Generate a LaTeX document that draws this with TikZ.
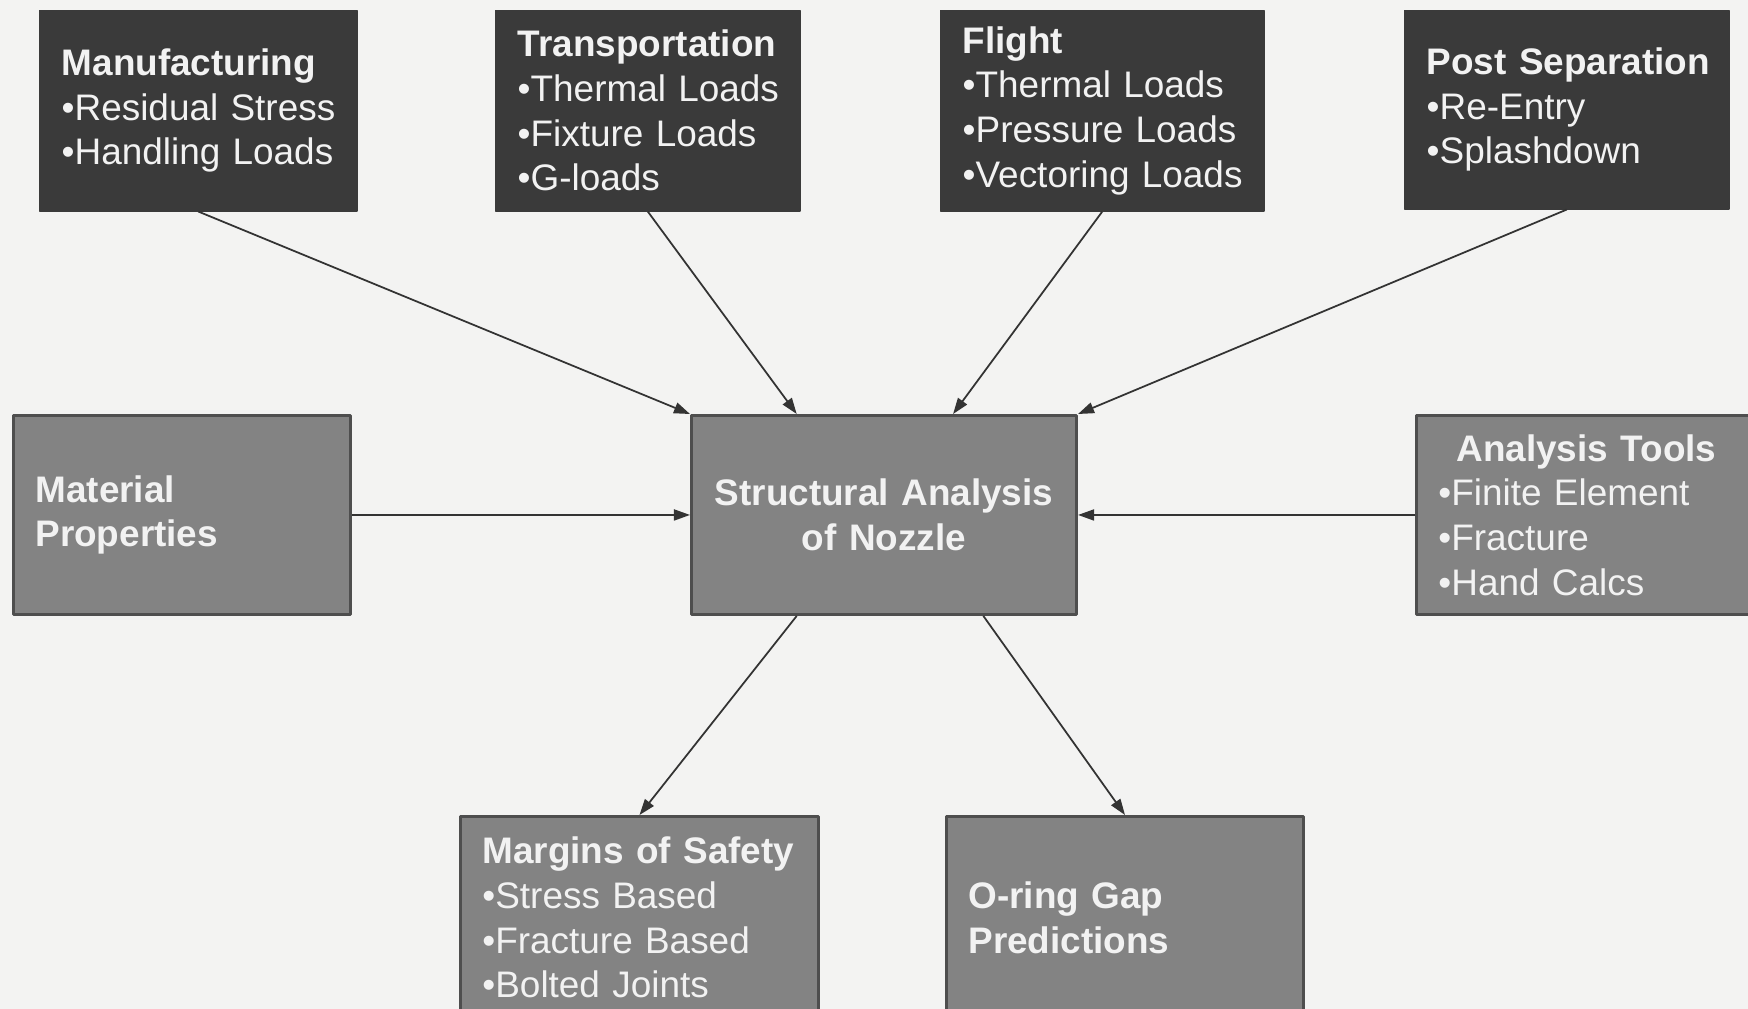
\documentclass[tikz,border=0pt]{standalone}
\usepackage{fontspec}
\setmainfont{Liberation Sans}
\usetikzlibrary{calc,arrows.meta}

\definecolor{paper}{HTML}{F3F3F2}
\definecolor{boxdark}{HTML}{3A3A3A}
\definecolor{boxgrey}{HTML}{838383}
\definecolor{boxrim}{HTML}{4E4E4E}
\definecolor{boxtext}{HTML}{F2F2F2}
\definecolor{wire}{HTML}{333333}
\hyphenpenalty=10000

\begin{document}
\begin{tikzpicture}[
    x=0.01cm,
    y=-0.01cm,
    line join=round,
    >={Triangle[length=0.16cm,width=0.11cm]},
    box/.style={anchor=north west, text=boxtext, inner xsep=0.22cm, inner ysep=0pt,
        align=left, font=\fontsize{10.5pt}{12.7pt}\selectfont},
    darkbox/.style={box, fill=boxdark, draw=boxdark},
    greybox/.style={box, fill=boxgrey, draw=boxrim, line width=0.8pt},
    feed/.style={->, draw=wire, line width=0.5pt}
]
\useasboundingbox (0,0) rectangle (1748,1009);
\clip (0,0) rectangle (1748,1009);
\fill[paper] (0,0) rectangle (1748,1009);

% sources of load
\node[darkbox, minimum width=3.17cm, minimum height=2cm, text width=2.73cm] (manu) at (39,10)
    {\textbf{Manufacturing}\\•Residual~Stress\\•Handling~Loads};
\node[darkbox, minimum width=3.04cm, minimum height=2cm, text width=2.60cm] (trans) at (495,10)
    {\textbf{Transportation}\\•Thermal~Loads\\•Fixture~Loads\\•G-loads};
\node[darkbox, minimum width=3.23cm, minimum height=2cm, text width=2.79cm] (flight) at (940,10)
    {\textbf{Flight}\\•Thermal~Loads\\•Pressure~Loads\\•Vectoring~Loads};
\node[darkbox, minimum width=3.24cm, minimum height=1.98cm, text width=2.80cm] (postsep) at (1404,10)
    {\textbf{Post~Separation}\\•Re-Entry\\•Splashdown};

% middle row
\node[greybox, minimum width=3.37cm, minimum height=1.99cm, text width=2.93cm] (matprop) at (12,414)
    {\textbf{Material}\\\textbf{Properties}};
\node[greybox, align=center, minimum width=3.85cm, minimum height=1.99cm, text width=3.41cm] (sa) at (690,414)
    {\textbf{Structural~Analysis}\\\textbf{of~Nozzle}};
\node[greybox, minimum width=3.60cm, minimum height=1.99cm, text width=3.16cm] (tools) at (1415,414)
    {\hspace*{0.18cm}\textbf{Analysis~Tools}\\•Finite~Element\\•Fracture\\•Hand~Calcs};

% results
\node[greybox, minimum width=3.58cm, minimum height=2.02cm, text width=3.14cm] (margins) at (459,815)
    {\textbf{Margins~of~Safety}\\•Stress~Based\\•Fracture~Based\\•Bolted~Joints};
\node[greybox, minimum width=3.57cm, minimum height=2.02cm, text width=3.13cm] (oring) at (945,815)
    {\textbf{O-ring~Gap}\\\textbf{Predictions}};

% connectors
\draw[feed] (manu.south) -- (sa.north west);
\draw[feed] (trans.south) -- ($(sa.north west)!0.275!(sa.north east)$);
\draw[feed] (flight.south) -- ($(sa.north west)!0.678!(sa.north east)$);
\draw[feed] (postsep.south) -- (sa.north east);
\draw[feed] (matprop.east) -- (sa.west);
\draw[feed] (tools.west) -- (sa.east);
\draw[feed] ($(sa.south west)!0.275!(sa.south east)$) -- (margins.north);
\draw[feed] ($(sa.south west)!0.756!(sa.south east)$) -- (oring.north);

\end{tikzpicture}
\end{document}
